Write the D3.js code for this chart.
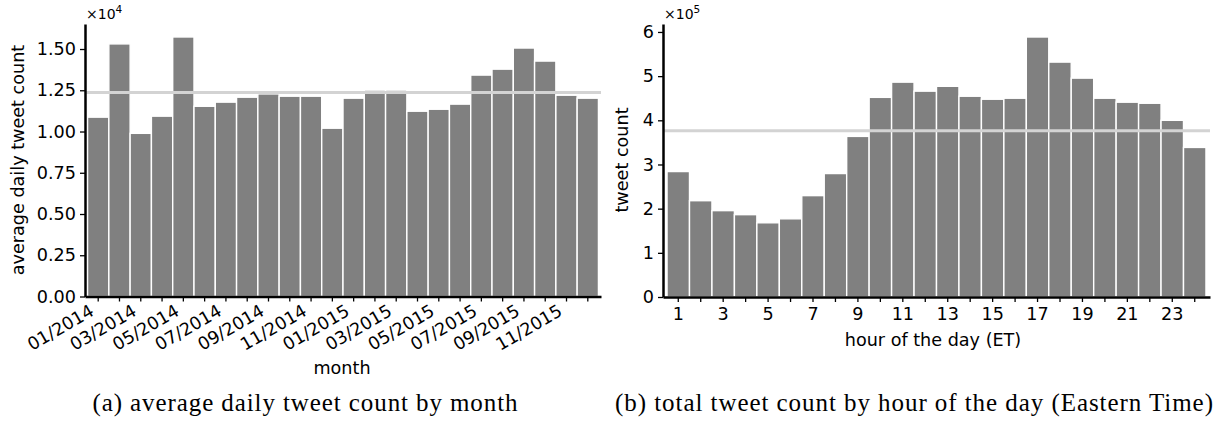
<!DOCTYPE html>
<html>
<head>
<meta charset="utf-8">
<script src="https://cdn.jsdelivr.net/npm/d3@7"></script>
<style>
  html, body { margin: 0; padding: 0; background: #fff; }
  svg { display: block; }
  .tick text { font-family: 'DejaVu Sans', sans-serif; font-size: 17.6px; fill: #000; }
  .axis-label { font-family: 'DejaVu Sans', sans-serif; font-size: 17.6px; fill: #000; }
  .caption { font-family: 'Liberation Serif', serif; font-size: 25px; fill: #000; }
</style>
</head>
<body>
<div id="chart"></div>
<script>
'use strict';

// ─── Data ──────────────────────────────────────────────────────────────────
const months = [
    '01/2014', '02/2014', '03/2014', '04/2014', '05/2014', '06/2014',
    '07/2014', '08/2014', '09/2014', '10/2014', '11/2014', '12/2014',
    '01/2015', '02/2015', '03/2015', '04/2015', '05/2015', '06/2015',
    '07/2015', '08/2015', '09/2015', '10/2015', '11/2015', '12/2015'
];
const dailyAvg = [
    10870, 15310, 9890, 10930, 15730, 11530,
    11780, 12080, 12280, 12140, 12140, 10200,
    12020, 12510, 12510, 11230, 11350, 11660,
    13420, 13780, 15060, 14270, 12200, 12020
];
const dailyAvgMean = 12370;
const monthTicks = [0, 2500, 5000, 7500, 10000, 12500, 15000];

const hours = [1, 2, 3, 4, 5, 6, 7, 8, 9, 10, 11, 12,
               13, 14, 15, 16, 17, 18, 19, 20, 21, 22, 23, 24];
const hourTotals = [
    284000, 218000, 195500, 186400, 168000, 177000,
    229500, 279500, 363600, 452000, 486400, 466000,
    477000, 454500, 447700, 450000, 588600, 531800,
    495500, 450000, 441000, 438600, 400000, 338600
];
const hourMean = 376500;
const hourTicks = [0, 100000, 200000, 300000, 400000, 500000, 600000];

// ─── Setup ─────────────────────────────────────────────────────────────────
const W = 1215, H = 427;
const BAR = '#808080', MEAN = '#d3d3d3';

const svg = d3.select('#chart').append('svg')
    .attr('width', W).attr('height', H);

function styleAxis(g) {
    g.select('.domain').attr('stroke', '#000').attr('stroke-width', 2.5);
    g.selectAll('.tick line').attr('stroke', '#000').attr('stroke-width', 1.3);
}

function offsetText(x, y, exp) {
    const t = svg.append('text')
        .attr('x', x).attr('y', y)
        .attr('font-family', 'DejaVu Sans, sans-serif')
        .attr('font-size', 14)
        .text('\u00d710');
    t.append('tspan').attr('dy', -6).attr('font-size', 10.5).text(exp);
}

function drawPanel(cfg) {
    const x = d3.scaleBand().domain(cfg.cats)
        .range([cfg.left, cfg.right]).paddingInner(0).paddingOuter(cfg.outer);
    const y = d3.scaleLinear().domain([0, d3.max(cfg.values) * 1.05])
        .range([cfg.bottom, cfg.top]);

    svg.append('g').selectAll('rect')
        .data(cfg.values)
        .enter().append('rect')
        .attr('x', function (d, i) { return x(cfg.cats[i]); })
        .attr('y', function (d) { return y(d); })
        .attr('width', x.bandwidth())
        .attr('height', function (d) { return cfg.bottom - y(d); })
        .attr('fill', BAR)
        .attr('stroke', '#fff')
        .attr('stroke-width', 1.4);

    // mean line, drawn over the bars
    svg.append('line')
        .attr('x1', cfg.left).attr('x2', cfg.right)
        .attr('y1', y(cfg.mean)).attr('y2', y(cfg.mean))
        .attr('stroke', MEAN).attr('stroke-width', 3);

    const gx = svg.append('g')
        .attr('transform', 'translate(0,' + cfg.bottom + ')')
        .call(d3.axisBottom(x).tickSize(5).tickSizeOuter(0).tickPadding(cfg.xPad)
            .tickFormat(function (d, i) { return i % 2 === 0 ? cfg.xFmt(d) : ''; }));
    styleAxis(gx);

    const gy = svg.append('g')
        .attr('transform', 'translate(' + cfg.left + ',0)')
        .call(d3.axisLeft(y).tickValues(cfg.yTicks).tickSize(5).tickSizeOuter(0)
            .tickPadding(4).tickFormat(cfg.yFmt));
    styleAxis(gy);

    return gx;
}

// ─── (a) monthly ───────────────────────────────────────────────────────────
const gxA = drawPanel({
    cats: months, values: dailyAvg, mean: dailyAvgMean, yTicks: monthTicks,
    left: 85, right: 601, top: 24, bottom: 296.5, outer: 0.12, xPad: 4,
    xFmt: function (d) { return d; },
    yFmt: function (v) { return (v / 1e4).toFixed(2); }
});
gxA.selectAll('.tick text')
    .attr('y', 0).attr('dy', 0)
    .attr('text-anchor', 'end')
    .attr('transform', 'translate(-3,18) rotate(-30)');

svg.append('text').attr('class', 'axis-label')
    .attr('text-anchor', 'middle')
    .attr('transform', 'translate(24,160) rotate(-90)')
    .text('average daily tweet count');
svg.append('text').attr('class', 'axis-label')
    .attr('text-anchor', 'middle').attr('x', 342).attr('y', 374)
    .text('month');
offsetText(86, 19, '4');

// ─── (b) hourly ────────────────────────────────────────────────────────────
drawPanel({
    cats: hours, values: hourTotals, mean: hourMean, yTicks: hourTicks,
    left: 663, right: 1210, top: 24, bottom: 297, outer: 0.18, xPad: 6,
    xFmt: function (d) { return String(d); },
    yFmt: function (v) { return String(v / 1e5); }
});

svg.append('text').attr('class', 'axis-label')
    .attr('text-anchor', 'middle')
    .attr('transform', 'translate(628,160) rotate(-90)')
    .text('tweet count');
svg.append('text').attr('class', 'axis-label')
    .attr('text-anchor', 'middle').attr('x', 933).attr('y', 346)
    .text('hour of the day (ET)');
offsetText(664, 19, '5');

// ─── Captions ──────────────────────────────────────────────────────────────
svg.append('text').attr('class', 'caption')
    .attr('text-anchor', 'middle').attr('x', 305).attr('y', 411)
    .attr('textLength', 425).attr('lengthAdjust', 'spacing')
    .text('(a) average daily tweet count by month');
svg.append('text').attr('class', 'caption')
    .attr('text-anchor', 'middle').attr('x', 914).attr('y', 411)
    .attr('textLength', 598).attr('lengthAdjust', 'spacing')
    .text('(b) total tweet count by hour of the day (Eastern Time)');
</script>
</body>
</html>
